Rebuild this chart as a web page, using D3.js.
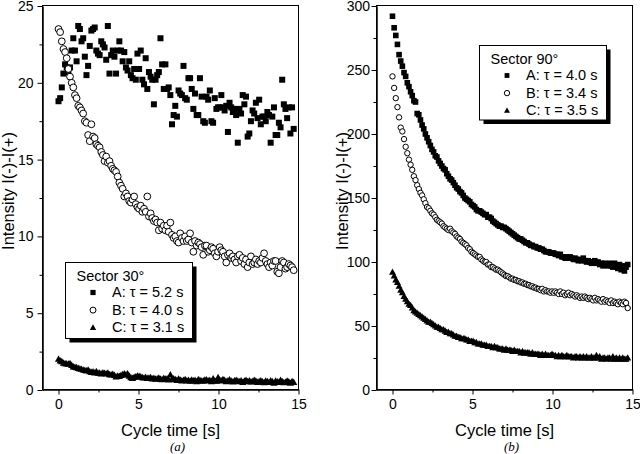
<!DOCTYPE html>
<html>
<head>
<meta charset="utf-8">
<script src="https://cdnjs.cloudflare.com/ajax/libs/d3/7.8.5/d3.min.js"></script>
<style>
    body {
        margin: 0;
        background: #fff;
    }

    svg {
        display: block;
        font-family: 'Liberation Sans', Arial, sans-serif;
    }

    .axis text {
        font-size: 14px;
        fill: #000;
    }

    .axis path,
    .axis line {
        stroke: #000;
    }
</style>
</head>

<body>
<svg id='chart' width='640' height='454'></svg>

<script>
    // sampling: every series runs from 0 s to T_END s in equal steps
    const T_END = 14.7;
    const xTicks = [0, 5, 10, 15];
    const xMinor = [2.5, 7.5, 12.5];

    // panel (a) - sector 30
    const yTicksA = [0, 5, 10, 15, 20, 25];
    const yMinorA = [2.5, 7.5, 12.5, 17.5, 22.5];
    const legendA = ['A: \u03c4 = 5.2 s', 'B: \u03c4 = 4.0 s', 'C: \u03c4 = 3.1 s'];

    const sec30A = [
        18.8, 19.0, 19.7, 20.6, 21.2, 21.0, 20.7, 21.0, 22.1, 22.9,
        22.1, 21.4, 23.7, 23.5, 22.7, 22.9, 21.7, 20.5, 21.1, 22.4,
        23.4, 23.5, 23.6, 22.1, 21.9, 21.8, 22.7, 22.5, 22.3, 21.5,
        23.7, 20.6, 21.8, 22.1, 21.7, 20.6, 22.1, 22.7, 22.1, 21.4,
        22.0, 21.0, 20.8, 21.4, 20.5, 20.3, 20.9, 20.2, 21.9, 20.9,
        22.1, 20.2, 19.9, 21.6, 19.6, 20.7, 20.4, 20.2, 18.6, 20.2,
        20.5, 20.7, 22.9, 21.2, 19.6, 21.2, 19.6, 19.7, 19.2, 17.3,
        17.9, 18.5, 17.8, 19.5, 19.3, 19.2, 21.1, 19.0, 18.9, 20.3,
        20.3, 19.6, 18.3, 19.3, 17.9, 17.9, 20.3, 19.1, 17.5, 17.4,
        19.1, 18.9, 19.5, 17.5, 17.4, 19.0, 18.3, 18.4, 18.4, 19.2,
        18.4, 18.2, 18.5, 16.8, 18.7, 18.4, 18.1, 18.3, 17.9, 16.1,
        18.3, 18.0, 19.2, 18.6, 19.1, 16.5, 16.7, 17.5, 18.2, 18.0,
        18.7, 17.7, 18.9, 17.3, 17.8, 17.8, 17.5, 18.1, 17.9, 16.1,
        17.8, 18.4, 16.6, 16.6, 17.4, 17.1, 20.2, 18.6, 18.3, 17.7,
        18.4, 16.7, 18.4, 17.0
    ];

    const sec30B = [
        23.5, 23.3, 22.7, 22.2, 22.0, 21.6, 20.9, 20.4, 20.0, 19.7,
        19.2, 19.0, 18.5, 18.4, 18.2, 18.0, 17.5, 17.4, 16.6, 16.2,
        17.3, 16.5, 16.4, 16.0, 15.9, 15.8, 15.5, 15.3, 14.9, 15.2,
        14.8, 14.9, 14.6, 14.4, 14.3, 14.2, 13.9, 13.5, 13.3, 13.1,
        12.6, 12.8, 12.6, 12.3, 12.2, 12.4, 12.6, 12.1, 11.9, 11.8,
        12.0, 11.6, 11.8, 11.6, 12.6, 11.3, 11.5, 11.2, 11.0, 11.1,
        10.9, 10.4, 10.9, 10.5, 10.7, 10.4, 10.7, 10.3, 10.9, 10.1,
        9.9, 10.0, 9.7, 9.6, 10.2, 9.9, 9.7, 10.0, 9.7, 9.8,
        10.2, 9.6, 9.0, 9.7, 9.4, 9.6, 9.5, 9.3, 8.8, 9.4,
        9.4, 9.0, 9.1, 9.3, 9.2, 8.9, 8.7, 9.0, 9.3, 9.1,
        9.0, 8.7, 8.3, 8.8, 8.9, 8.6, 8.7, 8.5, 8.3, 8.7,
        8.8, 8.4, 8.6, 8.2, 8.5, 8.0, 8.3, 8.7, 8.2, 8.3,
        8.5, 8.2, 8.4, 8.3, 8.6, 8.9, 8.4, 8.2, 8.0, 8.3,
        8.1, 8.4, 8.4, 7.7, 7.6, 8.0, 8.4, 8.3, 7.9, 8.0,
        8.2, 8.1, 8.0, 7.8
    ];

    const sec30C = [
        2.0, 1.9, 1.85, 1.75, 1.72, 1.7, 1.68, 1.72, 1.6, 1.5,
        1.48, 1.45, 1.4, 1.38, 1.35, 1.3, 1.28, 1.25, 1.3, 1.2,
        1.15, 1.18, 1.12, 1.2, 1.1, 1.1, 1.05, 1.12, 1.08, 1.05,
        1.1, 1.0, 0.98, 1.02, 0.95, 0.85, 0.9, 0.88, 0.95, 1.0,
        1.05, 0.98, 1.05, 0.9, 0.8, 0.75, 0.82, 0.85, 0.9, 0.88,
        0.85, 0.8, 0.78, 0.82, 0.75, 0.78, 0.8, 0.72, 0.75, 0.7,
        0.72, 0.78, 0.7, 0.68, 0.75, 0.7, 0.72, 0.65, 0.98, 0.7,
        0.72, 0.68, 0.62, 0.7, 0.65, 0.6, 0.62, 0.68, 0.6, 0.62,
        0.58, 0.65, 0.6, 0.62, 0.55, 0.68, 0.62, 0.58, 0.6, 0.65,
        0.66, 0.6, 0.62, 0.55, 0.72, 0.6, 0.58, 0.8, 0.65, 0.6,
        0.68, 0.62, 0.55, 0.6, 0.66, 0.58, 0.52, 0.6, 0.62, 0.58,
        0.55, 0.6, 0.5, 0.58, 0.62, 0.55, 0.6, 0.52, 0.55, 0.62,
        0.58, 0.5, 0.55, 0.6, 0.52, 0.48, 0.58, 0.55, 0.5, 0.6,
        0.55, 0.45, 0.58, 0.52, 0.5, 0.62, 0.55, 0.48, 0.5, 0.58,
        0.52, 0.45, 0.55, 0.5
    ];

    // panel (b) - sector 90
    const yTicksB = [0, 50, 100, 150, 200, 250, 300];
    const yMinorB = [25, 75, 125, 175, 225, 275];
    const legendB = ['A: \u03c4 = 4.0 s', 'B: \u03c4 = 3.4 s', 'C: \u03c4 = 3.5 s'];

    const sec90A = [
        292, 283, 277, 270, 262, 257, 253, 248, 245, 240,
        237, 233, 230, 226, 225, 216, 215, 211, 207, 204,
        200, 197, 194, 191, 188, 186, 183, 182, 179, 177,
        175, 173, 172, 169, 167, 165, 164, 162, 160, 158,
        157, 155, 154, 152, 150, 149, 148, 147, 145, 144,
        143, 141, 140, 140, 139, 138, 137, 137, 135, 135,
        134, 132, 131, 130, 129, 128, 128, 127, 127, 126,
        125, 124, 123, 122, 121, 120, 119, 118, 118, 117,
        116, 115, 115, 114, 113, 113, 112, 112, 111, 111,
        110, 110, 109, 108, 108, 108, 107, 107, 107, 106,
        106, 105, 106, 104, 104, 103, 104, 103, 104, 103,
        102, 103, 102, 101, 102, 101, 103, 101, 100, 101,
        100, 99, 100, 101, 99, 100, 98, 99, 97, 99,
        98, 97, 99, 97, 96, 99, 97, 95, 98, 94,
        97, 93, 96, 98
    ];

    const sec90B = [
        245, 236, 228, 221, 213, 205, 202, 196, 190, 185,
        180, 176, 172, 167, 164, 160, 157, 154, 152, 149,
        146, 143, 142, 140, 138, 137, 135, 133, 132, 131,
        130, 128, 127, 126, 125, 126, 124, 123, 122, 120,
        119, 118, 116, 115, 114, 113, 111, 110, 108, 107,
        106, 105, 104, 104, 102, 101, 100, 100, 98, 98,
        96, 96, 95, 94, 94, 93, 92, 91, 90, 89,
        89, 88, 87, 87, 86, 86, 85, 85, 84, 84,
        83, 83, 82, 82, 81, 81, 80, 80, 79, 79,
        78, 79, 77, 78, 77, 77, 76, 77, 76, 77,
        76, 75, 77, 75, 76, 74, 75, 76, 74, 75,
        74, 73, 74, 73, 72, 73, 72, 73, 72, 71,
        72, 71, 70, 72, 70, 71, 70, 69, 71, 69,
        70, 69, 68, 70, 68, 69, 68, 67, 69, 68,
        67, 69, 68, 64
    ];

    const sec90C = [
        92, 89, 86, 84, 81, 78, 76, 73, 71, 69,
        67, 66, 64, 62, 61, 60, 59, 58, 57, 56,
        55, 54, 53, 53, 52, 51, 50, 49, 49, 48,
        47, 47, 46, 45, 45, 44, 44, 43, 42, 42,
        41, 41, 40, 40, 40, 39, 39, 38, 38, 38,
        37, 37, 36, 36, 36, 35, 35, 35, 34, 34,
        34, 33, 34, 33, 33, 32, 32, 32, 31, 32,
        31, 31, 31, 30, 31, 30, 30, 30, 29, 30,
        29, 29, 29, 29, 28, 29, 28, 28, 28, 28,
        27, 28, 27, 28, 27, 27, 27, 28, 27, 27,
        26, 27, 26, 27, 26, 26, 27, 26, 26, 26,
        25, 26, 26, 25, 26, 25, 26, 25, 26, 25,
        25, 26, 25, 25, 27, 25, 26, 24, 25, 25,
        24, 25, 25, 24, 26, 24, 25, 24, 25, 24,
        25, 24, 24, 25
    ];

    const svg = d3.select('#chart');

    function toPoints(vals) {
        const step = T_END / (vals.length - 1);
        return vals.map(function(v, i) {
            return { t: i * step, v: v };
        });
    }

    function triPath(cx, cy, w) {
        const h = w * 0.9;
        return 'M' + cx + ',' + (cy - h * 0.6) +
            'L' + (cx + w / 2) + ',' + (cy + h * 0.4) +
            'L' + (cx - w / 2) + ',' + (cy + h * 0.4) + 'Z';
    }

    function drawMarker(g, kind, cx, cy, size) {
        if (kind === 'square') {
            g.append('rect')
                .attr('x', cx - size / 2).attr('y', cy - size / 2)
                .attr('width', size).attr('height', size)
                .attr('fill', '#000');
        } else if (kind === 'circle') {
            g.append('circle')
                .attr('cx', cx).attr('cy', cy).attr('r', size / 2)
                .attr('fill', '#fff').attr('stroke', '#000').attr('stroke-width', 1);
        } else {
            g.append('path')
                .attr('d', triPath(cx, cy, size))
                .attr('fill', '#000');
        }
    }

    function drawPanel(cfg) {
        const g = svg.append('g');
        const x = d3.scaleLinear().domain([-1, 15]).range([cfg.left, cfg.left + 256]);
        const y = d3.scaleLinear().domain([0, cfg.yMax]).range([390, 6]);

        // frame
        g.append('rect')
            .attr('x', x(-1)).attr('y', y(cfg.yMax) - 0.5)
            .attr('width', x(15) - x(-1)).attr('height', y(0) - y(cfg.yMax))
            .attr('fill', 'none').attr('stroke', '#000').attr('stroke-width', 1);

        // axes
        g.append('g').attr('class', 'axis')
            .attr('transform', 'translate(0,' + (y(0) - 0.5) + ')')
            .call(d3.axisBottom(x).tickValues(xTicks).tickSize(5).tickSizeOuter(0).tickPadding(5));
        g.append('g').attr('class', 'axis')
            .attr('transform', 'translate(0,' + (y(0) - 0.5) + ')')
            .call(d3.axisBottom(x).tickValues(xMinor).tickSize(3).tickSizeOuter(0).tickFormat(''));
        g.append('g').attr('class', 'axis')
            .attr('transform', 'translate(' + x(-1) + ',0)')
            .call(d3.axisLeft(y).tickValues(cfg.yTicks).tickSize(5).tickSizeOuter(0).tickPadding(cfg.yPad));
        g.append('g').attr('class', 'axis')
            .attr('transform', 'translate(' + x(-1) + ',0)')
            .call(d3.axisLeft(y).tickValues(cfg.yMinor).tickSize(3).tickSizeOuter(0).tickFormat(''));

        // data
        const kinds = ['square', 'circle', 'triangle'];
        cfg.series.forEach(function(vals, k) {
            const sg = g.append('g');
            toPoints(vals).forEach(function(p) {
                drawMarker(sg, kinds[k], x(p.t), y(p.v), cfg.sizes[k]);
            });
        });

        // axis titles
        g.append('text')
            .attr('x', (x(-1) + x(15)) / 2).attr('y', 436)
            .attr('text-anchor', 'middle')
            .style('font-size', '16.5px')
            .text('Cycle time [s]');
        g.append('text')
            .attr('transform', 'translate(' + (cfg.left - 29) + ',191)rotate(-90)')
            .attr('text-anchor', 'middle')
            .style('font-size', '16.5px')
            .text('Intensity I(-)-I(+)');
        g.append('text')
            .attr('x', (x(-1) + x(15)) / 2 + 7).attr('y', 451)
            .attr('text-anchor', 'middle')
            .style('font-family', "'Liberation Serif', serif")
            .style('font-style', 'italic')
            .style('font-size', '13px')
            .text(cfg.tag);

        // legend with drop shadow
        const L = cfg.legend;
        const lg = g.append('g');
        lg.append('rect')
            .attr('x', L.x + 4).attr('y', L.y + 4)
            .attr('width', L.w).attr('height', L.h)
            .attr('fill', '#000');
        lg.append('rect')
            .attr('x', L.x).attr('y', L.y)
            .attr('width', L.w).attr('height', L.h)
            .attr('fill', '#fff').attr('stroke', '#000').attr('stroke-width', 1);
        lg.append('text')
            .attr('x', L.x + 11).attr('y', L.y + 18.5)
            .style('font-size', '14.5px')
            .text(cfg.title);
        cfg.labels.forEach(function(lab, k) {
            const by = L.y + 34.5 + k * 17.6;
            drawMarker(lg, kinds[k], L.x + 27.5, by - 4.5, cfg.legendSizes[k]);
            lg.append('text')
                .attr('x', L.x + 46.5).attr('y', by)
                .style('font-size', '14.5px')
                .text(lab);
        });
    }

    drawPanel({
        left: 42.5,
        yMax: 25,
        yTicks: yTicksA,
        yMinor: yMinorA,
        yPad: 4,
        series: [sec30A, sec30B, sec30C],
        sizes: [6, 6.8, 7.2],
        legendSizes: [5.2, 6, 6.4],
        labels: legendA,
        title: 'Sector 30\u00b0',
        tag: '(a)',
        legend: { x: 65.5, y: 262.5, w: 127, h: 76 }
    });

    drawPanel({
        left: 376.5,
        yMax: 300,
        yTicks: yTicksB,
        yMinor: yMinorB,
        yPad: 1.5,
        series: [sec90A, sec90B, sec90C],
        sizes: [5.6, 5.4, 7],
        legendSizes: [4.8, 5.4, 6],
        labels: legendB,
        title: 'Sector 90\u00b0',
        tag: '(b)',
        legend: { x: 479.5, y: 45.5, w: 127, h: 74.5 }
    });
</script>
</body>

</html>
